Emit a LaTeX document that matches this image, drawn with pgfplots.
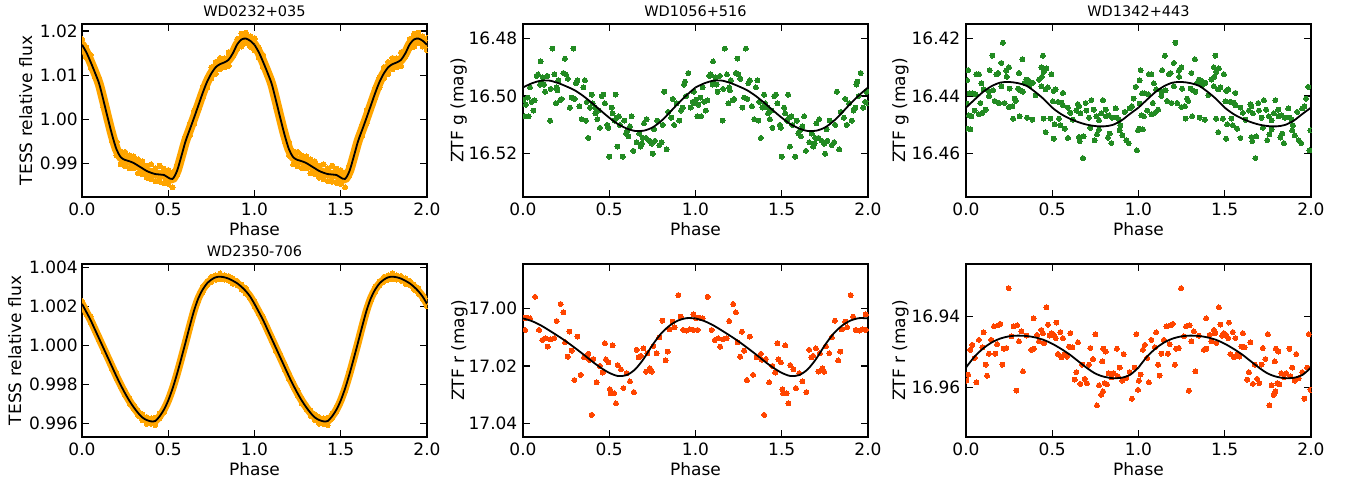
\documentclass[border=0pt]{standalone}
\usepackage{fontspec}
\setmainfont{DejaVu Sans}
\usepackage{pgfplots}
\usepackage{pgfplotstable}
\pgfplotsset{compat=1.18}

\definecolor{tessorange}{RGB}{255,165,0}
\definecolor{ztfgreen}{RGB}{34,139,34}
\definecolor{ztfred}{RGB}{255,69,0}

\newcommand\tickfont{\fontsize{17}{20}\selectfont}
\newcommand\labfont{\fontsize{17}{20}\selectfont}
\newcommand\titfont{\fontsize{14.5}{17}\selectfont}

% TESS light curves: phase, fitted flux, two edges of the point band
\pgfplotstableread{
ph f a b
0.000 1.0169 1.0182 1.0159
0.025 1.0152 1.0140 1.0162
0.050 1.0130 1.0146 1.0117
0.075 1.0106 1.0097 1.0113
0.100 1.0080 1.0091 1.0071
0.125 1.0042 1.0027 1.0054
0.150 1.0002 1.0010 0.9996
0.175 0.9964 0.9950 0.9975
0.200 0.9932 0.9949 0.9918
0.225 0.9914 0.9898 0.9927
0.250 0.9908 0.9926 0.9894
0.275 0.9905 0.9889 0.9918
0.300 0.9901 0.9916 0.9889
0.325 0.9895 0.9878 0.9909
0.350 0.9889 0.9905 0.9876
0.375 0.9883 0.9868 0.9895
0.400 0.9879 0.9898 0.9864
0.425 0.9876 0.9860 0.9889
0.450 0.9875 0.9895 0.9859
0.475 0.9874 0.9856 0.9888
0.500 0.9868 0.9885 0.9854
0.525 0.9865 0.9846 0.9880
0.550 0.9882 0.9895 0.9872
0.575 0.9915 0.9906 0.9922
0.600 0.9950 0.9961 0.9941
0.625 0.9977 0.9963 0.9988
0.650 1.0004 1.0020 0.9991
0.675 1.0032 1.0022 1.0040
0.700 1.0060 1.0072 1.0050
0.725 1.0085 1.0072 1.0095
0.750 1.0104 1.0118 1.0093
0.775 1.0118 1.0103 1.0130
0.800 1.0125 1.0139 1.0114
0.825 1.0129 1.0118 1.0138
0.850 1.0135 1.0152 1.0121
0.875 1.0150 1.0142 1.0156
0.900 1.0170 1.0182 1.0160
0.925 1.0181 1.0165 1.0194
0.950 1.0183 1.0196 1.0173
0.975 1.0178 1.0165 1.0188
1.000 1.0169 1.0184 1.0157
}\tessA

\pgfplotstableread{
ph f a b
0.000 1.00213 1.00228 1.00201
0.025 1.00172 1.00159 1.00182
0.050 1.00130 1.00148 1.00116
0.075 1.00082 1.00070 1.00092
0.100 1.00034 1.00048 1.00023
0.125 0.99986 0.99970 0.99999
0.150 0.99938 0.99949 0.99929
0.175 0.99890 0.99875 0.99902
0.200 0.99842 0.99859 0.99828
0.225 0.99797 0.99785 0.99807
0.250 0.99755 0.99769 0.99744
0.275 0.99717 0.99701 0.99730
0.300 0.99684 0.99697 0.99674
0.325 0.99655 0.99640 0.99667
0.350 0.99632 0.99650 0.99618
0.375 0.99619 0.99599 0.99635
0.400 0.99612 0.99628 0.99599
0.425 0.99614 0.99592 0.99632
0.450 0.99638 0.99653 0.99626
0.475 0.99672 0.99659 0.99682
0.500 0.99719 0.99731 0.99709
0.525 0.99780 0.99766 0.99791
0.550 0.99852 0.99868 0.99839
0.575 0.99932 0.99921 0.99941
0.600 1.00015 1.00028 1.00005
0.625 1.00100 1.00085 1.00112
0.650 1.00180 1.00192 1.00170
0.675 1.00243 1.00229 1.00254
0.700 1.00287 1.00304 1.00273
0.725 1.00318 1.00306 1.00328
0.750 1.00337 1.00352 1.00325
0.775 1.00349 1.00336 1.00359
0.800 1.00352 1.00370 1.00338
0.825 1.00349 1.00337 1.00359
0.850 1.00342 1.00356 1.00331
0.875 1.00331 1.00315 1.00344
0.900 1.00318 1.00331 1.00308
0.925 1.00300 1.00285 1.00312
0.950 1.00278 1.00295 1.00264
0.975 1.00250 1.00238 1.00260
1.000 1.00213 1.00228 1.00201
}\tessB

% ZTF fitted curves
\pgfplotstableread{
ph g1 g2 r1 r2
0.00 16.4970 16.4440 17.0035 16.9544
0.05 16.4956 16.4412 17.0044 16.9513
0.10 16.4947 16.4385 17.0058 16.9490
0.15 16.4946 16.4365 17.0076 16.9473
0.20 16.4954 16.4353 17.0095 16.9462
0.25 16.4966 16.4351 17.0115 16.9456
0.30 16.4980 16.4355 17.0137 16.9454
0.35 16.5000 16.4364 17.0160 16.9455
0.40 16.5024 16.4385 17.0184 16.9459
0.45 16.5050 16.4410 17.0206 16.9466
0.50 16.5075 16.4440 17.0224 16.9477
0.55 16.5097 16.4462 17.0235 16.9491
0.60 16.5112 16.4478 17.0232 16.9507
0.65 16.5121 16.4490 17.0212 16.9526
0.70 16.5120 16.4499 17.0175 16.9545
0.75 16.5109 16.4504 17.0128 16.9561
0.80 16.5087 16.4505 17.0088 16.9570
0.85 16.5057 16.4500 17.0060 16.9574
0.90 16.5025 16.4485 17.0042 16.9573
0.95 16.4996 16.4462 17.0034 16.9565
1.00 16.4970 16.4440 17.0035 16.9544
}\ztffit

% ZTF g, WD1056+516
\pgfplotstableread{
ph m
0.170 16.4835
0.292 16.4835
0.102 16.4880
0.243 16.4870
0.079 16.4930
0.087 16.4925
0.141 16.4930
0.182 16.4925
0.234 16.4920
0.249 16.4925
0.017 16.5030
0.033 16.5070
0.010 16.5070
0.050 16.5020
0.068 16.5015
0.060 16.5050
0.041 16.4970
0.099 16.4960
0.108 16.4955
0.122 16.4960
0.128 16.4985
0.160 16.4975
0.195 16.4970
0.199 16.4980
0.224 16.5010
0.215 16.5015
0.191 16.5025
0.157 16.5085
0.272 16.5040
0.282 16.5005
0.307 16.4955
0.315 16.4945
0.359 16.4945
0.350 16.4970
0.327 16.5035
0.340 16.5080
0.365 16.5085
0.379 16.5145
0.388 16.5040
0.404 16.5025
0.398 16.4995
0.417 16.5040
0.440 16.5050
0.431 16.5080
0.446 16.5110
0.456 16.5000
0.466 16.4995
0.475 16.5025
0.489 16.5100
0.495 16.5110
0.500 16.5210
0.514 16.5040
0.520 16.5060
0.537 16.4995
0.543 16.5075
0.556 16.5070
0.562 16.5100
0.547 16.5175
0.578 16.5210
0.587 16.5085
0.597 16.5130
0.611 16.5140
0.605 16.5120
0.630 16.5070
0.640 16.5190
0.659 16.5160
0.674 16.5130
0.682 16.5175
0.694 16.5145
0.713 16.5145
0.701 16.5095
0.717 16.5080
0.732 16.5155
0.746 16.5165
0.752 16.5200
0.765 16.5155
0.778 16.5085
0.790 16.5170
0.803 16.5160
0.810 16.5100
0.819 16.4985
0.833 16.5185
0.842 16.5055
0.868 16.5010
0.876 16.5100
0.890 16.5025
0.906 16.5085
0.916 16.5050
0.926 16.5040
0.933 16.4960
0.939 16.4950
0.958 16.4920
0.972 16.5040
0.984 16.5020
0.999 16.5025
0.991 16.4985
0.003 16.5012
0.028 16.5005
0.115 16.4935
0.205 16.4945
0.260 16.4940
0.300 16.5010
0.370 16.5020
0.420 16.5060
0.530 16.5085
0.620 16.5105
0.690 16.5165
0.760 16.5115
0.860 16.5075
0.945 16.5000
}\ztfA

% ZTF g, WD1342+443
\pgfplotstableread{
ph m
0.214 16.4215
0.153 16.4260
0.327 16.4272
0.446 16.4260
0.012 16.4310
0.006 16.4345
0.060 16.4324
0.075 16.4324
0.137 16.4310
0.176 16.4325
0.186 16.4320
0.205 16.4285
0.234 16.4312
0.249 16.4300
0.236 16.4333
0.307 16.4320
0.350 16.4343
0.365 16.4347
0.340 16.4354
0.423 16.4343
0.440 16.4333
0.437 16.4300
0.450 16.4316
0.466 16.4304
0.495 16.4324
0.089 16.4356
0.102 16.4377
0.021 16.4390
0.037 16.4391
0.056 16.4394
0.133 16.4383
0.157 16.4380
0.205 16.4366
0.253 16.4374
0.302 16.4374
0.315 16.4380
0.330 16.4385
0.369 16.4362
0.388 16.4354
0.404 16.4397
0.437 16.4366
0.462 16.4377
0.475 16.4370
0.508 16.4382
0.520 16.4377
0.562 16.4389
0.006 16.4426
0.017 16.4467
0.031 16.4470
0.003 16.4513
0.025 16.4515
0.050 16.4450
0.075 16.4463
0.095 16.4458
0.114 16.4447
0.083 16.4424
0.133 16.4400
0.166 16.4417
0.191 16.4424
0.224 16.4424
0.249 16.4438
0.269 16.4435
0.282 16.4409
0.288 16.4417
0.273 16.4478
0.311 16.4470
0.354 16.4475
0.385 16.4482
0.450 16.4478
0.489 16.4478
0.462 16.4525
0.508 16.4548
0.504 16.4418
0.533 16.4420
0.553 16.4423
0.562 16.4432
0.539 16.4478
0.514 16.4498
0.547 16.4501
0.572 16.4513
0.591 16.4440
0.605 16.4458
0.591 16.4545
0.620 16.4482
0.640 16.4450
0.655 16.4435
0.663 16.4460
0.649 16.4428
0.655 16.4542
0.659 16.4556
0.682 16.4540
0.678 16.4615
0.661 16.4752
0.694 16.4424
0.727 16.4414
0.698 16.4450
0.713 16.4475
0.721 16.4510
0.740 16.4447
0.756 16.4470
0.771 16.4484
0.746 16.4553
0.759 16.4533
0.771 16.4516
0.794 16.4414
0.810 16.4447
0.785 16.4460
0.812 16.4470
0.829 16.4467
0.848 16.4475
0.868 16.4443
0.823 16.4544
0.833 16.4530
0.843 16.4563
0.876 16.4475
0.887 16.4482
0.895 16.4501
0.906 16.4536
0.929 16.4553
0.943 16.4563
0.891 16.4519
0.920 16.4455
0.949 16.4443
0.962 16.4435
0.971 16.4409
0.984 16.4368
0.991 16.4588
0.997 16.4519
}\ztfB

% ZTF r, WD1056+516
\pgfplotstableread{
ph m
0.070 16.9960
0.218 16.9985
0.234 17.0014
0.195 17.0044
0.012 17.0075
0.021 17.0032
0.041 17.0035
0.093 17.0075
0.112 17.0110
0.131 17.0104
0.160 17.0108
0.180 17.0104
0.143 17.0133
0.269 17.0081
0.244 17.0118
0.315 17.0098
0.282 17.0147
0.259 17.0168
0.298 17.0249
0.334 17.0231
0.354 17.0170
0.379 17.0158
0.385 17.0179
0.408 17.0176
0.427 17.0257
0.398 17.0370
0.446 17.0200
0.462 17.0223
0.475 17.0121
0.481 17.0177
0.495 17.0188
0.520 17.0129
0.504 17.0281
0.508 17.0295
0.528 17.0295
0.539 17.0330
0.549 17.0197
0.568 17.0212
0.582 17.0277
0.601 17.0225
0.620 17.0254
0.643 17.0291
0.659 17.0144
0.671 17.0170
0.682 17.0165
0.698 17.0139
0.713 17.0220
0.736 17.0208
0.746 17.0220
0.721 17.0156
0.756 17.0131
0.775 17.0156
0.790 17.0101
0.808 17.0043
0.827 17.0181
0.839 17.0150
0.848 17.0073
0.868 17.0046
0.879 17.0066
0.900 16.9954
0.914 17.0029
0.929 17.0075
0.949 17.0077
0.968 17.0073
0.987 17.0075
0.987 17.0021
0.003 17.0035
}\ztfC

% ZTF r, WD1342+443
\pgfplotstableread{
ph m
0.247 16.9320
0.466 16.9374
0.392 16.9405
0.276 16.9428
0.296 16.9425
0.162 16.9428
0.186 16.9425
0.199 16.9421
0.524 16.9417
0.475 16.9423
0.102 16.9445
0.075 16.9466
0.037 16.9480
0.025 16.9494
0.012 16.9564
0.002 16.9581
0.050 16.9517
0.060 16.9586
0.095 16.9487
0.133 16.9505
0.147 16.9466
0.170 16.9505
0.180 16.9478
0.114 16.9536
0.122 16.9567
0.211 16.9536
0.218 16.9491
0.234 16.9489
0.263 16.9456
0.307 16.9470
0.321 16.9442
0.350 16.9454
0.330 16.9555
0.292 16.9609
0.379 16.9494
0.394 16.9491
0.412 16.9452
0.423 16.9470
0.437 16.9438
0.446 16.9447
0.452 16.9475
0.485 16.9454
0.495 16.9447
0.508 16.9452
0.520 16.9461
0.562 16.9461
0.547 16.9444
0.605 16.9447
0.533 16.9506
0.553 16.9515
0.572 16.9506
0.585 16.9513
0.597 16.9485
0.616 16.9487
0.649 16.9473
0.630 16.9578
0.640 16.9557
0.663 16.9590
0.674 16.9536
0.688 16.9576
0.701 16.9588
0.721 16.9489
0.736 16.9520
0.750 16.9450
0.713 16.9536
0.759 16.9651
0.771 16.9594
0.783 16.9621
0.794 16.9611
0.804 16.9588
0.790 16.9527
0.796 16.9491
0.810 16.9499
0.817 16.9591
0.827 16.9560
0.856 16.9560
0.843 16.9572
0.881 16.9569
0.875 16.9491
0.914 16.9506
0.891 16.9544
0.906 16.9581
0.929 16.9574
0.949 16.9557
0.962 16.9632
0.978 16.9544
0.987 16.9450
0.997 16.9607
}\ztfD

\pgfplotsset{
  every axis title/.style={font=\titfont, at={(axis description cs:0.5,1.042)},
    anchor=base, inner sep=0pt},
  lc panel/.style={
    scale only axis, width=345pt, height=173pt,
    anchor=north west,
    xmin=0, xmax=2, xtick={0,0.5,1,1.5,2},
    scaled ticks=false,
    clip marker paths=true,
    tick align=inside, tick pos=both,
    xticklabel pos=lower, yticklabel pos=left,
    major tick length=7pt, minor tick num=0,
    every tick/.style={black, line width=1.2pt},
    axis line style={line width=1.6pt},
    /pgf/number format/assume math mode=true,
    xticklabel style={font=\tickfont, anchor=base, inner sep=0pt, yshift=-18pt,
      /pgf/number format/fixed, /pgf/number format/fixed zerofill,
      /pgf/number format/precision=1},
    yticklabel style={font=\tickfont, anchor=east, inner sep=0pt},
    xlabel=Phase,
    xlabel style={font=\labfont, at={(axis description cs:0.5,-0.2225)}, anchor=base, inner sep=0pt},
    ylabel style={font=\labfont, anchor=base, inner sep=0pt},
  },
  ylab at/.style={ylabel style={at={(axis description cs:-#1,0.5)}}},
  yprec/.style={yticklabel style={/pgf/number format/fixed,
      /pgf/number format/fixed zerofill, /pgf/number format/precision=#1}},
  band/.style={tessorange, line width=#1, smooth, line join=round, line cap=round},
  bandpts/.style={only marks, mark=*, mark size=#1, color=tessorange, mark options={line width=0pt}},
  fit/.style={black, line width=1.8pt, smooth},
  gpts/.style={only marks, mark=*, mark size=2.5pt, color=ztfgreen, mark options={line width=0pt}},
  rpts/.style={only marks, mark=*, mark size=2.5pt, color=ztfred, mark options={line width=0pt}},
}

\begin{document}
\begin{tikzpicture}
\useasboundingbox (0pt,0pt) rectangle (1347pt,-483pt);

% ---- row 1 ----
\begin{axis}[lc panel, at={(82pt,-24pt)},
  title={WD0232+035}, ylabel={TESS relative flux}, ylab at=0.1449,
  ymin=0.9824, ymax=1.0216, ytick={0.99,1.00,1.01,1.02}, yprec=2,
  yticklabel style={xshift=-4pt}]
\addplot[band=9pt] table[x=ph,y=f]{\tessA};
\addplot[band=9pt] table[x expr=\thisrow{ph}+1,y=f]{\tessA};
\addplot[bandpts=2.6pt] table[x=ph,y=a]{\tessA};
\addplot[bandpts=2.6pt] table[x=ph,y=b]{\tessA};
\addplot[bandpts=2.6pt] table[x expr=\thisrow{ph}+1,y=a]{\tessA};
\addplot[bandpts=2.6pt] table[x expr=\thisrow{ph}+1,y=b]{\tessA};
\addplot[fit] table[x=ph,y=f]{\tessA};
\addplot[fit] table[x expr=\thisrow{ph}+1,y=f]{\tessA};
\end{axis}

\begin{axis}[lc panel, at={(523pt,-24pt)},
  title={WD1056+516}, ylabel={ZTF g (mag)}, ylab at=0.173,
  y dir=reverse, ymin=16.475, ymax=16.535, ytick={16.48,16.50,16.52}, yprec=2,
  yticklabel style={xshift=-5.5pt}]
\addplot[gpts] table[x=ph,y=m]{\ztfA};
\addplot[gpts] table[x expr=\thisrow{ph}+1,y=m]{\ztfA};
\addplot[fit] table[x=ph,y=g1]{\ztffit};
\addplot[fit] table[x expr=\thisrow{ph}+1,y=g1]{\ztffit};
\end{axis}

\begin{axis}[lc panel, at={(966pt,-24pt)},
  title={WD1342+443}, ylabel={ZTF g (mag)}, ylab at=0.1768,
  y dir=reverse, ymin=16.415, ymax=16.475, ytick={16.42,16.44,16.46}, yprec=2,
  yticklabel style={xshift=-5.5pt}]
\addplot[gpts] table[x=ph,y=m]{\ztfB};
\addplot[gpts] table[x expr=\thisrow{ph}+1,y=m]{\ztfB};
\addplot[fit] table[x=ph,y=g2]{\ztffit};
\addplot[fit] table[x expr=\thisrow{ph}+1,y=g2]{\ztffit};
\end{axis}

% ---- row 2 ----
\begin{axis}[lc panel, at={(82pt,-264pt)},
  title={WD2350-706}, ylabel={TESS relative flux}, ylab at=0.1768,
  ymin=0.99532, ymax=1.00417, ytick={0.996,0.998,1.000,1.002,1.004}, yprec=3,
  yticklabel style={xshift=-4pt}]
\addplot[band=7.5pt] table[x=ph,y=f]{\tessB};
\addplot[band=7.5pt] table[x expr=\thisrow{ph}+1,y=f]{\tessB};
\addplot[bandpts=2.4pt] table[x=ph,y=a]{\tessB};
\addplot[bandpts=2.4pt] table[x=ph,y=b]{\tessB};
\addplot[bandpts=2.4pt] table[x expr=\thisrow{ph}+1,y=a]{\tessB};
\addplot[bandpts=2.4pt] table[x expr=\thisrow{ph}+1,y=b]{\tessB};
\addplot[fit] table[x=ph,y=f]{\tessB};
\addplot[fit] table[x expr=\thisrow{ph}+1,y=f]{\tessB};
\end{axis}

\begin{axis}[lc panel, at={(523pt,-264pt)},
  ylabel={ZTF r (mag)}, ylab at=0.171,
  y dir=reverse, ymin=16.9846, ymax=17.0447, ytick={17.00,17.02,17.04}, yprec=2,
  yticklabel style={xshift=-5.5pt}]
\addplot[rpts] table[x=ph,y=m]{\ztfC};
\addplot[rpts] table[x expr=\thisrow{ph}+1,y=m]{\ztfC};
\addplot[fit] table[x=ph,y=r1]{\ztffit};
\addplot[fit] table[x expr=\thisrow{ph}+1,y=r1]{\ztffit};
\end{axis}

\begin{axis}[lc panel, at={(966pt,-264pt)},
  ylabel={ZTF r (mag)}, ylab at=0.1768,
  y dir=reverse, ymin=16.9252, ymax=16.974, ytick={16.94,16.96}, yprec=2,
  yticklabel style={xshift=-5.5pt}]
\addplot[rpts] table[x=ph,y=m]{\ztfD};
\addplot[rpts] table[x expr=\thisrow{ph}+1,y=m]{\ztfD};
\addplot[fit] table[x=ph,y=r2]{\ztffit};
\addplot[fit] table[x expr=\thisrow{ph}+1,y=r2]{\ztffit};
\end{axis}
\end{tikzpicture}
\end{document}
